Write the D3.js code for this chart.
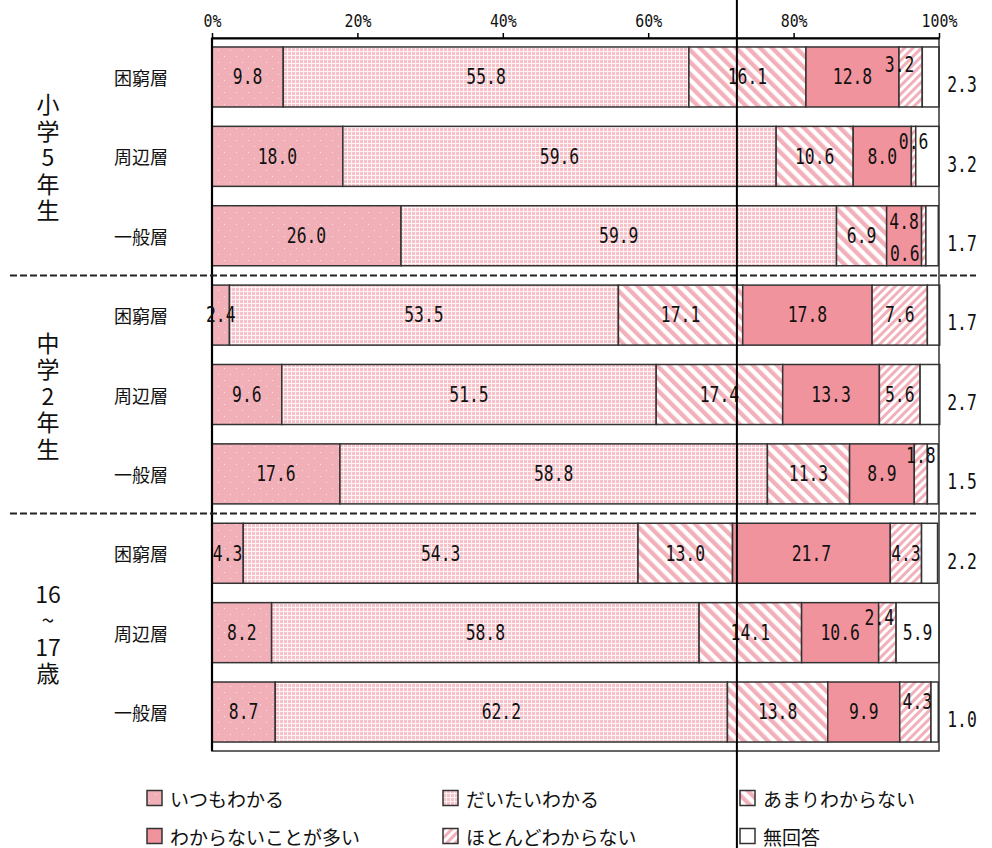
<!DOCTYPE html>
<html lang="ja">
<head>
<meta charset="utf-8">
<script src="https://cdn.jsdelivr.net/npm/d3@7"></script>
<style>
  html, body { margin: 0; padding: 0; background: #fff; }
  svg { display: block; }
</style>
</head>
<body>
<svg id="chart" width="992" height="848"></svg>
<script>
// Answer categories, in stacking order
const categories = ["いつもわかる", "だいたいわかる", "あまりわからない", "わからないことが多い", "ほとんどわからない", "無回答"];

// Age groups and the household strata inside each group
const groups = ["小学5年生", "中学2年生", "16~17歳"];
const groupLines = [["小", "学", "5", "年", "生"], ["中", "学", "2", "年", "生"], ["16", "~", "17", "歳"]];
const strata = ["困窮層", "周辺層", "一般層"];

// Percentages per group, one row per stratum
const values5th = [
  [9.8, 55.8, 16.1, 12.8, 3.2, 2.3],
  [18.0, 59.6, 10.6, 8.0, 0.6, 3.2],
  [26.0, 59.9, 6.9, 4.8, 0.6, 1.7]
];
const values8th = [
  [2.4, 53.5, 17.1, 17.8, 7.6, 1.7],
  [9.6, 51.5, 17.4, 13.3, 5.6, 2.7],
  [17.6, 58.8, 11.3, 8.9, 1.8, 1.5]
];
const values16 = [
  [4.3, 54.3, 13.0, 21.7, 4.3, 2.2],
  [8.2, 58.8, 14.1, 10.6, 2.4, 5.9],
  [8.7, 62.2, 13.8, 9.9, 4.3, 1.0]
];

const tickValues = [0, 20, 40, 60, 80, 100];
const markerValue = 72.2;

// ---- layout ----
const svg = d3.select("#chart");
const W = 992, H = 848;
const plotL = 212, plotR = 939, plotT = 38, plotB = 751;

const rows = [];
[values5th, values8th, values16].forEach((g, gi) => {
  g.forEach((vals, si) => rows.push({ id: gi * 3 + si, group: gi, stratum: strata[si], vals }));
});

const x = d3.scaleLinear().domain([0, 100]).range([plotL, plotR]);
const y = d3.scaleBand().domain(rows.map(r => r.id)).range([plotT, plotB])
  .paddingInner(0.244).paddingOuter(0.113);

// ---- fill patterns ----
const defs = svg.append("defs");
const pink = "#f2b1ba";

const pAlways = defs.append("pattern").attr("id", "p0").attr("patternUnits", "userSpaceOnUse")
  .attr("width", 12).attr("height", 12);
pAlways.append("rect").attr("width", 12).attr("height", 12).attr("fill", "#f1b0b8");
pAlways.append("rect").attr("x", 2).attr("y", 2).attr("width", 1).attr("height", 1).attr("fill", "#fbe3e6");
pAlways.append("rect").attr("x", 8).attr("y", 8).attr("width", 1).attr("height", 1).attr("fill", "#fbe3e6");

const pMostly = defs.append("pattern").attr("id", "p1").attr("patternUnits", "userSpaceOnUse")
  .attr("width", 4).attr("height", 4);
pMostly.append("rect").attr("width", 4).attr("height", 4).attr("fill", "#fdf2f4");
pMostly.append("rect").attr("width", 3).attr("height", 3).attr("fill", "#f6c3ca");

const pRarely = defs.append("pattern").attr("id", "p2").attr("patternUnits", "userSpaceOnUse")
  .attr("width", 8.5).attr("height", 8.5).attr("patternTransform", "rotate(-45)");
pRarely.append("rect").attr("width", 8.5).attr("height", 8.5).attr("fill", "#ffffff");
pRarely.append("rect").attr("width", 4.3).attr("height", 8.5).attr("fill", pink);

const pHardly = defs.append("pattern").attr("id", "p4").attr("patternUnits", "userSpaceOnUse")
  .attr("width", 6).attr("height", 6).attr("patternTransform", "rotate(45)");
pHardly.append("rect").attr("width", 6).attr("height", 6).attr("fill", "#ffffff");
pHardly.append("rect").attr("width", 3).attr("height", 6).attr("fill", pink);

const fills = ["url(#p0)", "url(#p1)", "url(#p2)", "#f1939c", "url(#p4)", "#ffffff"];

// ---- bars ----
const segs = [];
rows.forEach(r => {
  let acc = 0;
  r.vals.forEach((v, k) => {
    segs.push({ row: r.id, k, v, x0: acc, x1: acc + v });
    acc += v;
  });
});

svg.append("g").selectAll("rect").data(segs).join("rect")
  .attr("x", d => x(d.x0))
  .attr("y", d => y(d.row))
  .attr("width", d => x(d.x1) - x(d.x0))
  .attr("height", y.bandwidth())
  .attr("fill", d => fills[d.k])
  .attr("stroke", "#333")
  .attr("stroke-width", 1.5);

// ---- plot frame and axis ----
svg.append("rect").attr("x", plotL).attr("y", plotT).attr("width", plotR - plotL).attr("height", plotB - plotT)
  .attr("fill", "none").attr("stroke", "#333").attr("stroke-width", 1.5);
svg.append("line").attr("x1", plotL).attr("x2", plotL).attr("y1", plotT).attr("y2", plotB)
  .attr("stroke", "#000").attr("stroke-width", 2.2);

const axis = svg.append("g").attr("transform", `translate(0,${plotT})`)
  .call(d3.axisTop(x).tickValues(tickValues).tickFormat(d => d + "%").tickSizeInner(5).tickSizeOuter(0));
axis.select(".domain").attr("stroke", "#000").attr("stroke-width", 2.2);
axis.selectAll(".tick line").attr("stroke", "#000").attr("stroke-width", 1.5);
axis.selectAll(".tick text")
  .style("font-family", "'DejaVu Sans Mono', monospace")
  .style("font-size", "17.5px").attr("fill", "#111")
  .attr("y", -11).attr("dy", 0)
  .attr("transform", "scale(0.85,1)");

// ---- value labels ----
const labelShift = {
  "0-4": [-11, -12],
  "1-4": [0, -15],
  "2-3": [0, -14],
  "2-4": [-19, 18],
  "5-4": [0, -18],
  "7-4": [-8, -15],
  "8-4": [2, -10]
};

const valueFont = "'DejaVu Sans Mono', monospace";
svg.append("g").selectAll("text").data(segs).join("text")
  .attr("transform", d => {
    const key = d.row + "-" + d.k;
    const cy = y(d.row) + y.bandwidth() / 2;
    let cx = (x(d.x0) + x(d.x1)) / 2, dy = 0;
    if (d.k === 5 && d.v < 5) { cx = x(100) + 23; dy = 8; }
    if (labelShift[key]) { cx += labelShift[key][0]; dy += labelShift[key][1]; }
    return `translate(${cx},${cy + dy}) scale(0.78,1)`;
  })
  .attr("text-anchor", "middle")
  .attr("dominant-baseline", "central")
  .attr("font-family", valueFont)
  .attr("font-size", 21)
  .attr("fill", "#111")
  .text(d => d.v.toFixed(1));

// ---- stratum labels ----
svg.append("g").selectAll("text").data(rows).join("text")
  .attr("x", 168)
  .attr("y", d => y(d.id) + y.bandwidth() / 2)
  .attr("text-anchor", "end")
  .attr("dominant-baseline", "central")
  .attr("font-family", "'Noto Sans CJK JP', sans-serif")
  .attr("font-size", 18)
  .attr("fill", "#111")
  .text(d => d.stratum);

// ---- vertical group labels, one glyph per line ----
groups.forEach((g, gi) => {
  const first = y(gi * 3), last = y(gi * 3 + 2) + y.bandwidth();
  const mid = (first + last) / 2;
  const lines = groupLines[gi];
  const step = 26.5;
  svg.append("g").attr("class", "group-label").selectAll("text").data(lines).join("text")
    .attr("x", 48)
    .attr("y", (c, i) => mid + (i - (lines.length - 1) / 2) * step)
    .attr("font-family", "'Noto Sans CJK JP', sans-serif")
    .attr("font-size", 23)
    .attr("fill", "#111")
    .attr("text-anchor", "middle")
    .attr("dominant-baseline", "central")
    .text(c => c);
});

// ---- dashed group separators ----
[1, 2].forEach(gi => {
  const gap = (y.step() - y.bandwidth()) / 2;
  const sy = y(gi * 3) - gap;
  svg.append("line").attr("x1", 10).attr("x2", 976).attr("y1", sy).attr("y2", sy)
    .attr("stroke", "#222").attr("stroke-width", 2).attr("stroke-dasharray", "7,3");
});

// ---- marker line ----
svg.append("line").attr("x1", x(markerValue)).attr("x2", x(markerValue)).attr("y1", 0).attr("y2", H)
  .attr("stroke", "#000").attr("stroke-width", 2);

// ---- legend ----
const legendPos = [[147, 798], [443, 798], [740, 798], [147, 836], [443, 836], [740, 836]];
const legendOrder = [0, 1, 2, 3, 4, 5];
const lg = svg.append("g").selectAll("g").data(legendOrder).join("g")
  .attr("transform", (d, i) => `translate(${legendPos[i][0]},${legendPos[i][1]})`);
lg.append("rect").attr("x", 0).attr("y", -7.5).attr("width", 15).attr("height", 15)
  .attr("fill", d => fills[d]).attr("stroke", "#333").attr("stroke-width", 1.5);
lg.append("text").attr("x", 23).attr("y", 0)
  .attr("dominant-baseline", "central")
  .attr("font-family", "'Noto Sans CJK JP', sans-serif")
  .attr("font-size", 19).attr("fill", "#111")
  .text(d => categories[d]);
</script>
</body>
</html>
